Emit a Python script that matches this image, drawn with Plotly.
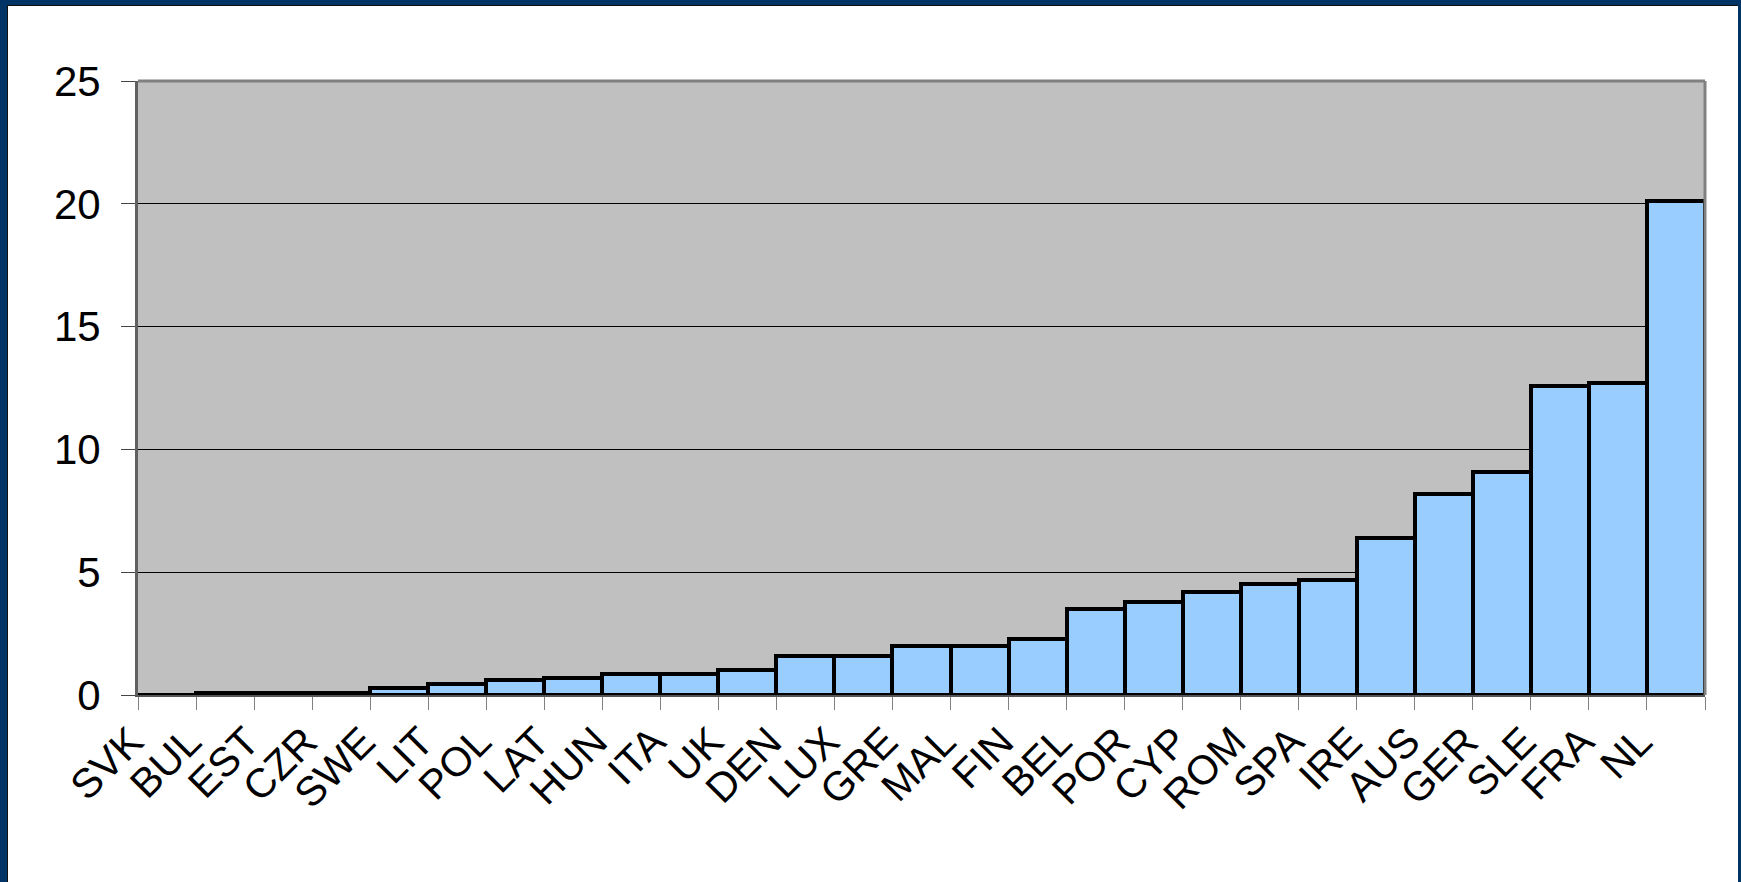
import plotly.graph_objects as go

# Country codes, sorted by value
countries = ["SVK", "BUL", "EST", "CZR", "SWE", "LIT", "POL", "LAT", "HUN", "ITA",
             "UK", "DEN", "LUX", "GRE", "MAL", "FIN", "BEL", "POR", "CYP", "ROM",
             "SPA", "IRE", "AUS", "GER", "SLE", "FRA", "NL"]
values = [0.0, 0.1, 0.1, 0.1, 0.3, 0.45, 0.6, 0.7, 0.85, 0.85,
          1.0, 1.6, 1.6, 2.0, 2.0, 2.3, 3.5, 3.8, 4.2, 4.5,
          4.7, 6.4, 8.2, 9.1, 12.6, 12.7, 20.1]
y_ticks = [0, 5, 10, 15, 20, 25]

W, H = 1741, 882
L, R, T, B = 138, 36, 81, 187
PW, PH = W - L - R, H - T - B


def px_x(x):
    return (x - L) / PW


def px_y(y):
    return (H - B - y) / PH


FONT = "Arial, Liberation Sans, sans-serif"
NAVY = "#003366"

fig = go.Figure(
    go.Bar(
        x=countries,
        y=values,
        marker=dict(color="#99CCFF", line=dict(color="black", width=4)),
        hoverinfo="x+y",
    )
)

# Frame around the figure
frame = [
    (0, 0, 8, H),        # left
    (0, 0, W, 6),        # top
    (W - 3, 0, W, H),    # right
]
shapes = []
for x0, y0, x1, y1 in frame:
    shapes.append(dict(
        type="rect", xref="paper", yref="paper",
        x0=px_x(x0), x1=px_x(x1), y0=px_y(y1), y1=px_y(y0),
        fillcolor=NAVY, line=dict(width=0), layer="above",
    ))
# thin dark inner edge of the frame
shapes.append(dict(type="line", xref="paper", yref="paper",
                   x0=px_x(7.5), x1=px_x(7.5), y0=px_y(H), y1=px_y(5.5),
                   line=dict(color="#111111", width=1)))
shapes.append(dict(type="line", xref="paper", yref="paper",
                   x0=px_x(7.5), x1=px_x(W - 3), y0=px_y(5.5), y1=px_y(5.5),
                   line=dict(color="#111111", width=1)))

fig.update_layout(
    width=W,
    height=H,
    margin=dict(l=L, r=R, t=T, b=B, pad=0),
    paper_bgcolor="white",
    plot_bgcolor="#C0C0C0",
    bargap=0,
    showlegend=False,
    shapes=shapes,
    font=dict(family=FONT, color="black"),
)

fig.update_xaxes(
    type="category",
    tickangle=-45,
    tickfont=dict(size=41, family=FONT, color="black"),
    ticks="outside",
    tickson="boundaries",
    ticklen=13,
    tickcolor="#808080",
    tickwidth=1,
    ticklabelshift=-36,
    ticklabelstandoff=4,
    showline=True,
    linecolor="#555555",
    linewidth=2,
    mirror=False,
    showgrid=False,
)

fig.update_yaxes(
    range=[0, 25],
    tickvals=y_ticks,
    ticktext=[str(v) for v in y_ticks],
    tickfont=dict(size=42, family=FONT, color="black"),
    ticks="outside",
    ticklen=14,
    tickcolor="#444444",
    tickwidth=1,
    ticklabelstandoff=12,
    showgrid=True,
    gridcolor="black",
    gridwidth=1,
    zeroline=False,
    showline=True,
    linecolor="#606060",
    linewidth=3,
    mirror=False,
)

# top and right border of the plot area
fig.add_shape(type="line", xref="paper", yref="paper", x0=0, x1=1, y0=1, y1=1,
              line=dict(color="#808080", width=3), layer="above")
fig.add_shape(type="line", xref="paper", yref="paper", x0=1, x1=1, y0=0, y1=1,
              line=dict(color="#808080", width=3), layer="above")

fig.write_html("out.html")
